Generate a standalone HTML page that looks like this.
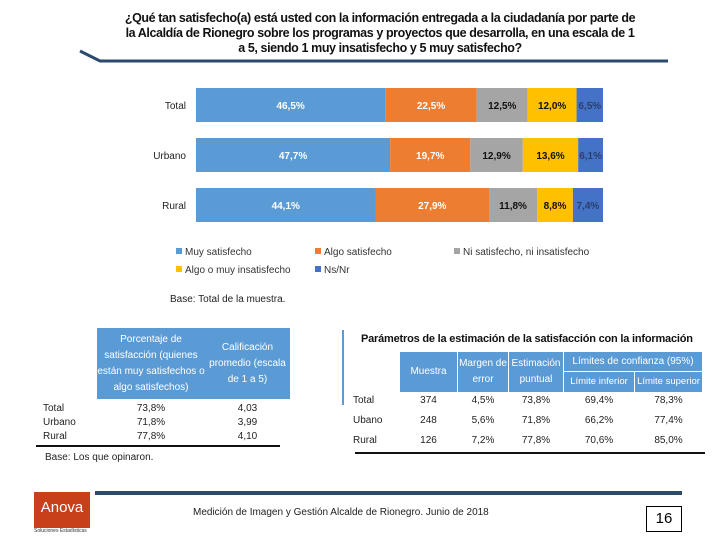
<!DOCTYPE html>
<html><head><meta charset="utf-8">
<style>
body{margin:0;width:720px;height:540px;background:#fff;position:relative;overflow:hidden;font-family:"Liberation Sans",sans-serif;}
.abs{position:absolute;}
.t{font-size:11px;color:#222;}
.hd{background:#5B9BD5;color:#fff;font-size:10px;text-align:center;display:flex;align-items:center;justify-content:center;line-height:16px;}
</style></head><body>
<div class="abs" style="left:80px;top:11px;width:600px;text-align:center;font-size:12.5px;line-height:15px;font-weight:bold;color:#111;letter-spacing:-0.4px;">¿Qué tan satisfecho(a) está usted con la información entregada a la ciudadanía por parte de<br>la Alcaldía de Rionegro sobre los programas y proyectos que desarrolla, en una escala de 1<br>a 5, siendo 1 muy insatisfecho y 5 muy satisfecho?</div>
<svg class="abs" style="left:0;top:0" width="720" height="80"><path d="M80 51 L100 61 L668 61" stroke="#2E4A6B" stroke-width="3" fill="none"/></svg>
<svg id="chart" class="abs" style="left:0;top:0" width="720" height="310"></svg>
<div class="abs t" style="left:170px;top:294px;font-size:10px;">Base: Total de la muestra.</div>

<div class="abs" style="left:30px;top:320px;width:320px;height:130px;">
<div class="abs hd" style="left:67px;top:8px;width:108px;height:71px;">Porcentaje de satisfacción (quienes están muy satisfechos o algo satisfechos)</div>
<div class="abs hd" style="left:175px;top:8px;width:85px;height:71px;">Calificación promedio (escala de 1 a 5)</div>
<div class="abs t" style="left:13px;top:82px;line-height:14px;font-size:10px;">Total<br>Urbano<br>Rural</div>
<div class="abs t" style="left:67px;top:82px;width:108px;text-align:center;line-height:14px;font-size:10px;">73,8%<br>71,8%<br>77,8%</div>
<div class="abs t" style="left:175px;top:82px;width:85px;text-align:center;line-height:14px;font-size:10px;">4,03<br>3,99<br>4,10</div>
<div class="abs" style="left:6px;top:125px;width:244px;height:2px;background:#111"></div>
</div>

<div class="abs" style="left:345px;top:325px;width:370px;height:130px;">
<div class="abs" style="left:-3px;top:5px;width:2px;height:75px;background:#5B9BD5"></div>
<div class="abs" style="left:16px;top:8px;font-size:11px;font-weight:bold;color:#111;white-space:nowrap;letter-spacing:-0.2px;">Parámetros de la estimación de la satisfacción con la información</div>
<div class="abs hd" style="left:55px;top:27px;width:57px;height:40px;">Muestra</div>
<div class="abs hd" style="left:113px;top:27px;width:50px;height:40px;">Margen de error</div>
<div class="abs hd" style="left:164px;top:27px;width:54px;height:40px;">Estimación puntual</div>
<div class="abs hd" style="left:219px;top:27px;width:138px;height:19px;">Límites de confianza (95%)</div>
<div class="abs hd" style="left:219px;top:47px;width:70px;height:20px;font-size:9.5px;">Límite inferior</div>
<div class="abs hd" style="left:290px;top:47px;width:67px;height:20px;font-size:9.5px;">Límite superior</div>
<div class="abs t" style="left:8px;top:66px;line-height:20px;font-size:10px;">Total<br>Ubano<br>Rural</div>
<div class="abs t" style="left:55px;top:66px;width:57px;text-align:center;line-height:20px;font-size:10px;">374<br>248<br>126</div>
<div class="abs t" style="left:113px;top:66px;width:50px;text-align:center;line-height:20px;font-size:10px;">4,5%<br>5,6%<br>7,2%</div>
<div class="abs t" style="left:164px;top:66px;width:54px;text-align:center;line-height:20px;font-size:10px;">73,8%<br>71,8%<br>77,8%</div>
<div class="abs t" style="left:219px;top:66px;width:70px;text-align:center;line-height:20px;font-size:10px;">69,4%<br>66,2%<br>70,6%</div>
<div class="abs t" style="left:290px;top:66px;width:67px;text-align:center;line-height:20px;font-size:10px;">78,3%<br>77,4%<br>85,0%</div>
<div class="abs" style="left:10px;top:127px;width:350px;height:2px;background:#111"></div>
</div>

<div class="abs t" style="left:45px;top:452px;font-size:10px;">Base: Los que opinaron.</div>
<div class="abs" style="left:95px;top:491px;width:587px;height:4px;background:#2E4A6B"></div>
<div class="abs" style="left:34px;top:492px;width:56px;height:36px;background:#C8401A;color:#fff;font-size:15px;text-align:center;line-height:32px;">Anova</div>
<div class="abs" style="left:34px;top:528px;font-size:5px;color:#333;">Soluciones Estadísticas</div>
<div class="abs t" style="left:193px;top:507px;font-size:10px;">Medición de Imagen y Gestión Alcalde de Rionegro. Junio de 2018</div>
<div class="abs" style="left:646px;top:506px;width:34px;height:24px;border:1px solid #000;text-align:center;line-height:24px;font-size:15px;">16</div>

<script>
const categories=["Total","Urbano","Rural"];
const seriesNames=["Muy satisfecho","Algo satisfecho","Ni satisfecho, ni insatisfecho","Algo o muy insatisfecho","Ns/Nr"];
const muySatisfecho=[46.5,47.7,44.1];
const algoSatisfecho=[22.5,19.7,27.9];
const niSatisfecho=[12.5,12.9,11.8];
const insatisfecho=[12.0,13.6,8.8];
const nsnr=[6.5,6.1,7.4];
const series=[muySatisfecho,algoSatisfecho,niSatisfecho,insatisfecho,nsnr];
const colors=["#5B9BD5","#ED7D31","#A5A5A5","#FFC000","#4472C4"];
const textColors=["#fff","#fff","#111","#111","#2a3f6e"];
const svg=document.getElementById('chart');
const NS="http://www.w3.org/2000/svg";
const x0=196,W=407;
function xs(v){return v*W/100;}
function yb(i){return 88+i*50;}
function mk(tag,attrs){const e=document.createElementNS(NS,tag);for(const k in attrs)e.setAttribute(k,attrs[k]);svg.appendChild(e);return e;}
categories.forEach((c,i)=>{
  const lab=mk('text',{x:186,y:yb(i)+21,'text-anchor':'end','font-size':'10','fill':'#222','font-family':'Liberation Sans'});
  
  
  lab.textContent=c;
  let acc=0;
  series.forEach((s,j)=>{
    const v=s[i];
    const r=mk('rect',{x:x0+xs(acc),y:yb(i),width:xs(v),height:34,fill:colors[j]});
    
    
    const t=mk('text',{x:x0+xs(acc+v/2),y:yb(i)+21,'text-anchor':'middle','font-size':'10','font-weight':'bold','fill':textColors[j],'font-family':'Liberation Sans'});
    
    
    t.textContent=v.toFixed(1).replace('.',',')+'%';
    acc+=v;
  });
});
const legPos=[[176,252],[315,252],[454,252],[176,270],[315,270]];
seriesNames.forEach((n,j)=>{
  const g=mk('rect',{x:legPos[j][0],y:legPos[j][1]-4,width:6,height:6,fill:colors[j]});
  
  
  const t=mk('text',{x:legPos[j][0]+9,y:legPos[j][1]+3,'font-size':'10','fill':'#333','font-family':'Liberation Sans'});
  
  
  t.textContent=n;
});
</script>
</body></html>
